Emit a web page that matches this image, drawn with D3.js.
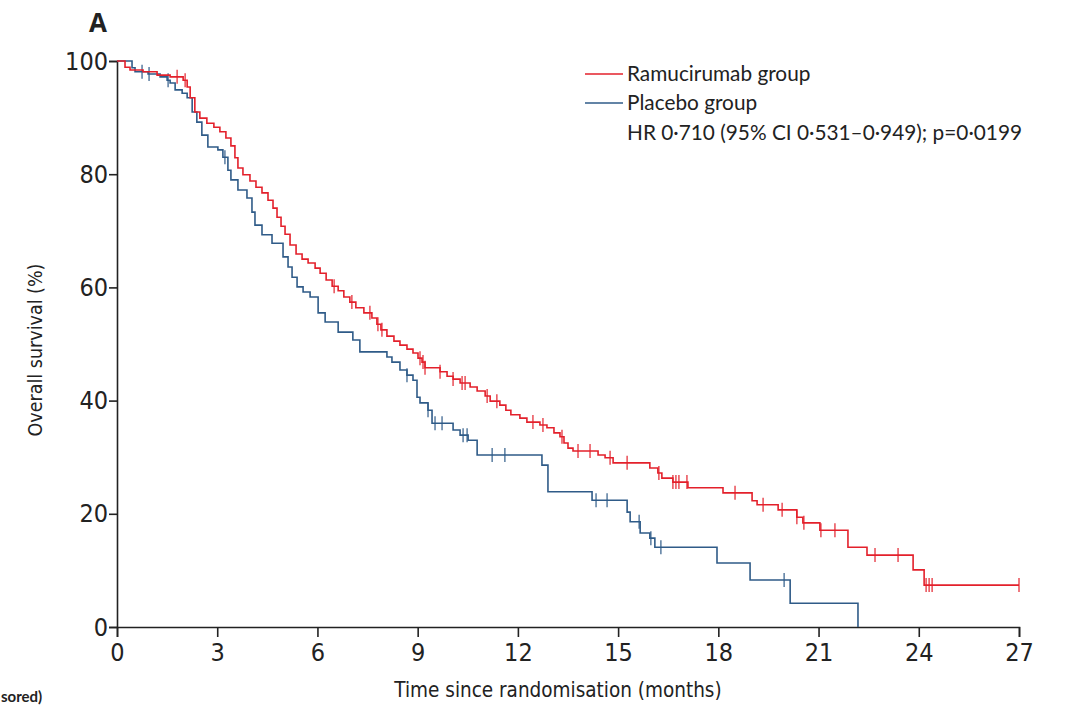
<!DOCTYPE html>
<html>
<head>
<meta charset="utf-8">
<script src="https://cdn.jsdelivr.net/npm/d3@7"></script>
<style>
  body { margin: 0; background: #fff; }
  svg { display: block; }
  .tick text { font-family: "DejaVu Sans Condensed", "Liberation Sans Narrow", sans-serif; }
</style>
</head>
<body>
<svg id="km"></svg>
<script>
// Kaplan-Meier steps: [month, overall survival %] after each drop
var ramucirumabSteps = [
  [0.24, 98.9], [0.39, 98.4], [0.78, 98.1], [1.20, 97.5], [1.59, 97.2], [1.98, 96.6],
  [2.10, 95.4], [2.19, 93.5], [2.33, 91.0], [2.48, 89.9], [2.69, 89.0], [2.90, 88.3],
  [3.08, 87.5], [3.26, 86.4], [3.41, 85.0], [3.53, 82.9], [3.62, 81.1], [3.77, 79.9],
  [3.98, 78.8], [4.16, 77.7], [4.34, 76.7], [4.52, 75.4], [4.67, 74.0], [4.79, 72.4],
  [4.91, 70.8], [5.03, 69.4], [5.18, 67.5], [5.36, 65.9], [5.54, 65.0], [5.72, 64.3],
  [5.93, 63.4], [6.08, 62.5], [6.26, 61.3], [6.44, 60.2], [6.62, 59.4], [6.79, 58.3],
  [6.97, 57.4], [7.15, 56.4], [7.39, 55.5], [7.63, 54.6], [7.78, 53.5], [7.90, 52.5],
  [8.08, 51.4], [8.29, 50.5], [8.47, 49.8], [8.68, 49.1], [8.86, 48.4], [9.01, 47.5],
  [9.13, 46.8], [9.22, 45.8], [9.67, 45.1], [9.88, 44.3], [10.06, 43.8], [10.27, 43.1],
  [10.57, 42.4], [10.78, 41.7], [11.02, 40.8], [11.17, 39.9], [11.46, 39.2], [11.64, 38.3],
  [11.79, 37.5], [12.06, 36.9], [12.27, 36.2], [12.66, 35.7], [12.87, 35.2], [13.08, 34.3],
  [13.26, 33.6], [13.38, 32.5], [13.50, 31.6], [13.65, 31.1], [14.40, 30.4], [14.61, 29.9],
  [14.85, 29.0], [15.95, 28.1], [16.19, 27.2], [16.31, 26.3], [16.64, 25.6], [17.09, 24.6],
  [18.14, 23.7], [19.01, 22.3], [19.16, 21.6], [19.79, 20.7], [20.35, 19.4], [20.53, 18.4],
  [21.04, 17.1], [21.88, 14.1], [22.45, 12.7], [23.83, 10.1], [24.16, 7.4]
];
var ramucirumabEnd = 27;
var ramucirumabCensored = [1.80, 2.04, 6.50, 7.03, 7.57, 7.81, 7.93, 9.07, 9.16, 9.22, 9.67,
  10.06, 10.33, 10.42, 11.08, 11.37, 12.45, 12.75, 13.32, 13.80, 14.16, 14.76, 15.27, 16.22,
  16.64, 16.73, 16.82, 17.06, 18.50, 19.34, 19.91, 20.35, 20.56, 21.07, 21.49, 22.69, 23.38,
  24.22, 24.31, 24.40, 27.0];

var placeboSteps = [
  [0.45, 98.8], [0.54, 98.1], [0.93, 97.7], [1.29, 97.2], [1.50, 96.6], [1.59, 96.1],
  [1.74, 94.9], [1.95, 94.3], [2.10, 93.5], [2.25, 91.0], [2.39, 89.2], [2.54, 86.9],
  [2.72, 84.8], [3.02, 84.3], [3.17, 83.0], [3.32, 80.7], [3.41, 79.0], [3.62, 77.2],
  [3.89, 75.8], [4.04, 73.3], [4.13, 71.0], [4.34, 69.3], [4.64, 67.8], [4.97, 65.4],
  [5.12, 63.6], [5.24, 61.8], [5.39, 60.1], [5.57, 59.2], [5.78, 58.3], [6.02, 55.5],
  [6.23, 53.9], [6.62, 52.1], [7.06, 50.7], [7.27, 48.6], [8.08, 47.7], [8.23, 46.8],
  [8.47, 45.4], [8.68, 44.5], [8.86, 43.6], [8.98, 40.6], [9.07, 39.6], [9.31, 38.3],
  [9.43, 36.0], [10.06, 34.8], [10.27, 33.9], [10.51, 33.0], [10.78, 30.4], [12.72, 28.6],
  [12.90, 23.9], [14.22, 22.4], [15.27, 20.3], [15.36, 18.6], [15.66, 16.6], [15.95, 15.7],
  [16.10, 14.1], [17.96, 11.3], [18.95, 8.3], [20.15, 4.2], [22.18, 0]
];
var placeboEnd = 22.18;
var placeboCensored = [0.75, 0.96, 1.53, 3.23, 8.68, 9.31, 9.52, 9.73, 10.36, 10.48, 11.23,
  11.61, 14.34, 14.67, 15.63, 15.98, 16.28, 19.97];

var xTicks = [0, 3, 6, 9, 12, 15, 18, 21, 24, 27];
var yTicks = [0, 20, 40, 60, 80, 100];

var red = "#e3202b", blue = "#2f5b88";

var W = 1068, H = 705;
var margin = { top: 61, right: 49, bottom: 78, left: 117 };
var width = W - margin.left - margin.right;
var height = H - margin.top - margin.bottom;

var svg = d3.select("#km").attr("width", W).attr("height", H);
var g = svg.append("g").attr("transform", "translate(" + margin.left + "," + margin.top + ")");

var x = d3.scaleLinear().domain([0, 27]).range([0, width]);
var y = d3.scaleLinear().domain([0, 100]).range([height, 0]);

// axes
var xAxis = g.append("g")
  .attr("transform", "translate(0," + height + ")")
  .call(d3.axisBottom(x).tickValues(xTicks).tickSize(10).tickPadding(4));
var yAxis = g.append("g")
  .call(d3.axisLeft(y).tickValues(yTicks).tickSize(8).tickPadding(1));

[xAxis, yAxis].forEach(function (a) {
  a.select(".domain").attr("stroke", "#222").attr("stroke-width", 1.6);
  a.selectAll(".tick line").attr("stroke", "#222").attr("stroke-width", 1.6);
  a.selectAll(".tick text").attr("fill", "#222").attr("font-size", 25);
});
xAxis.selectAll(".tick text").attr("dy", "0.8em");

function survAt(steps, t) {
  var s = 100;
  steps.forEach(function (d) { if (d[0] <= t) s = d[1]; });
  return s;
}

function stepPoints(steps, end) {
  var pts = [[0, 100]].concat(steps);
  var last = pts[pts.length - 1];
  if (end > last[0]) pts.push([end, last[1]]);
  return pts;
}

var line = d3.line()
  .x(function (d) { return x(d[0]); })
  .y(function (d) { return y(d[1]); })
  .curve(d3.curveStepAfter);

function drawGroup(steps, end, censored, color) {
  g.append("path")
    .datum(stepPoints(steps, end))
    .attr("fill", "none")
    .attr("stroke", color)
    .attr("stroke-width", 1.6)
    .attr("d", line);
  g.selectAll(null)
    .data(censored)
    .enter()
    .append("line")
    .attr("x1", function (t) { return x(t); })
    .attr("x2", function (t) { return x(t); })
    .attr("y1", function (t) { return y(survAt(steps, t)) - 7; })
    .attr("y2", function (t) { return y(survAt(steps, t)) + 7; })
    .attr("stroke", color)
    .attr("stroke-opacity", 0.75)
    .attr("stroke-width", 1.6);
}

drawGroup(placeboSteps, placeboEnd, placeboCensored, blue);
drawGroup(ramucirumabSteps, ramucirumabEnd, ramucirumabCensored, red);

// panel letter
svg.append("text")
  .attr("x", 89).attr("y", 32)
  .attr("font-family", "Open Sans, sans-serif")
  .attr("font-weight", "bold")
  .attr("font-size", 26)
  .attr("fill", "#222")
  .text("A");

// axis titles
svg.append("text")
  .attr("x", 558).attr("y", 697)
  .attr("text-anchor", "middle")
  .attr("font-family", "DejaVu Sans Condensed, sans-serif")
  .attr("font-size", 20.5)
  .attr("fill", "#222")
  .text("Time since randomisation (months)");

svg.append("text")
  .attr("transform", "translate(42,350) rotate(-90)")
  .attr("text-anchor", "middle")
  .attr("font-family", "DejaVu Sans Condensed, sans-serif")
  .attr("font-size", 19.5)
  .attr("fill", "#222")
  .text("Overall survival (%)");

// legend
var legend = [
  { label: "Ramucirumab group", color: red, y: 74 },
  { label: "Placebo group", color: blue, y: 103 }
];
legend.forEach(function (d) {
  svg.append("line")
    .attr("x1", 585).attr("x2", 623)
    .attr("y1", d.y).attr("y2", d.y)
    .attr("stroke", d.color).attr("stroke-width", 1.6);
  svg.append("text")
    .attr("x", 627).attr("y", d.y + 7)
    .attr("font-family", "Lato, sans-serif")
    .attr("font-size", 20.8)
    .attr("fill", "#222")
    .text(d.label);
});
svg.append("text")
  .attr("x", 627).attr("y", 140)
  .attr("font-family", "Lato, sans-serif")
  .attr("font-size", 20.8)
  .attr("fill", "#222")
  .text("HR 0·710 (95% CI 0·531–0·949); p=0·0199");

// fragment of the next panel's heading, peeking in at the bottom left
svg.append("text")
  .attr("x", 1).attr("y", 702)
  .attr("font-family", "Lato, sans-serif")
  .attr("font-weight", "bold")
  .attr("font-size", 15)
  .attr("fill", "#222")
  .text("sored)");
</script>
</body>
</html>
